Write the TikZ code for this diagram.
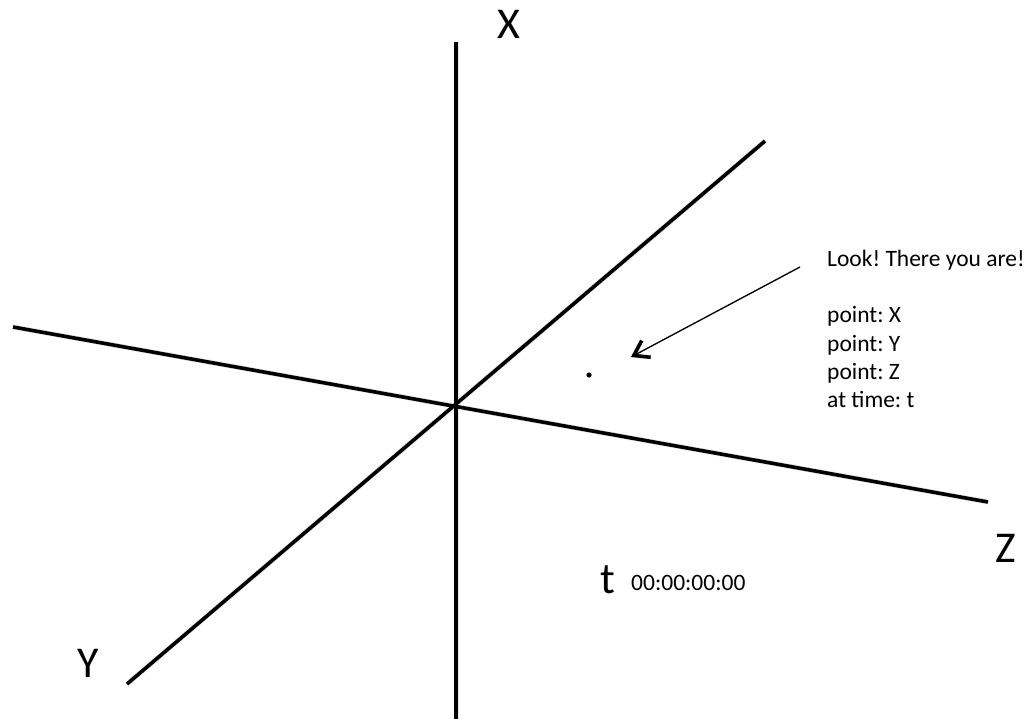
\documentclass[tikz,border=0pt]{standalone}
\usepackage{fontspec}
\setmainfont{Carlito}
\usetikzlibrary{arrows.meta}
\tikzset{
  axisline/.style={line width=3.6pt, black},
  axisshadow/.style={line width=5pt, black!10, shift={(2.5,3.5)}},
  biglabel/.style={font=\fontsize{44}{50}\selectfont, inner sep=0pt, anchor=base},
  smalltext/.style={font=\fontsize{23.5}{28}\selectfont\frenchspacing, inner sep=0pt, anchor=base west},
  pointer/.style={line width=1.3pt, -{Straight Barb[length=14pt,width=19pt,line width=3.6pt]}},
}
\begin{document}
\frenchspacing
\begin{tikzpicture}[x=1pt,y=-1pt]
\useasboundingbox (0,0) rectangle (1033,719);
% axis end points
\coordinate (xtop) at (456,42);
\coordinate (xbot) at (456,719);
\coordinate (ylow) at (127,684);
\coordinate (yhigh) at (765,141);
\coordinate (zleft) at (13,327);
\coordinate (zright) at (988,502);
% shadows
\draw[axisshadow] (xtop) -- (xbot);
\draw[axisshadow] (ylow) -- (yhigh);
\draw[axisshadow] (zleft) -- (zright);
% axes
\draw[axisline] (xtop) -- (xbot);
\draw[axisline] (ylow) -- (yhigh);
\draw[axisline] (zleft) -- (zright);
% labels
\node[biglabel] (lx) at (508.5,39) {X};
\node[biglabel] (ly) at (88,677) {Y};
\node[biglabel] (lz) at (1005.5,562) {Z};
% point
\fill (589,375) circle (2.6);
% text block
\node[smalltext] (look) at (827,267) {Look! There you are!};
\node[smalltext] (px) at (827,323) {point: X};
\node[smalltext] (py) at (827,351) {point: Y};
\node[smalltext] (pz) at (827,379) {point: Z};
\node[smalltext] (pt) at (827,407) {at time: t};
% arrow
\coordinate (astart) at (800,267);
\coordinate (aend) at (631,357);
\draw[pointer, black!12, shift={(2,3)}] (astart) -- (aend);
\draw[pointer] (astart) -- (aend);
% time
\node[biglabel] (tl) at (607.5,593) {t};
\node[smalltext] (timer) at (631,590) {00:00:00:00};
\end{tikzpicture}
\end{document}
